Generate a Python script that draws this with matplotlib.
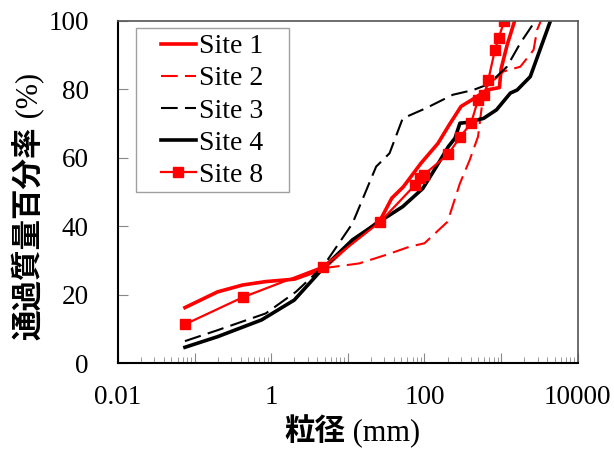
import numpy as np
import matplotlib
matplotlib.use("Agg")
import matplotlib.pyplot as plt
from matplotlib.patches import Rectangle
from matplotlib.ticker import LogLocator, FuncFormatter, NullFormatter

plt.rcParams['font.family'] = ['Liberation Serif', 'Noto Sans CJK JP']

# grain size (mm) and percent passing for each site
site1_d = [0.075, 0.2, 0.425, 0.85, 2.0, 4.75, 11, 26.5, 37.5, 53, 90, 150, 210, 300, 450, 650, 950, 1000, 1200, 1500]
site1_p = [16.2, 20.8, 22.8, 23.8, 24.5, 27.5, 35, 41.8, 48.2, 51.5, 58.4, 64.2, 69.6, 75, 77.4, 79.8, 80.5, 86, 93, 100]

site2_d = [4.75, 14, 31.5, 64, 100, 200, 290, 390, 500, 560, 650, 1070, 1780, 2650, 2950, 3300]
site2_p = [27.7, 29.1, 31.6, 34, 35, 41.3, 52.5, 59.4, 66.2, 75, 80.8, 85.2, 86.6, 91.5, 97.4, 100]

site3_d = [0.075, 0.2, 0.85, 2.1, 4.75, 11.5, 23.4, 35, 52, 105, 234, 433, 650, 870, 1190, 1780, 2790]
site3_p = [6.4, 9.6, 14.5, 20.8, 28.2, 40.8, 57.4, 61.3, 71.5, 74.5, 78.4, 79.8, 81.3, 83.7, 86.6, 93.5, 100]

site4_d = [0.075, 0.2, 0.75, 2.0, 4.75, 11.5, 25.7, 52, 95, 143, 204, 250, 290, 355, 590, 870, 1320, 1620, 2400, 4400]
site4_p = [4.6, 7.7, 12.6, 18.4, 27.7, 36, 41.3, 45.7, 51, 57.4, 63.2, 65.7, 70.1, 70.3, 71.5, 74, 78.9, 79.8, 83.7, 100]

site8_d = [0.075, 0.425, 4.75, 26.5, 75, 87, 98, 205, 295, 405, 500, 600, 680, 830, 925, 1100]
site8_p = [11.3, 19.2, 28.2, 41.3, 52, 54, 55, 61.1, 66.2, 70.1, 76.9, 78.4, 82.7, 91.5, 94.9, 100]

xlabel_parts = ['粒径', ' (mm)']
ylabel_parts = ['通過質量百分率', ' (%)']

W, H = 614, 449
fig = plt.figure(figsize=(W / 100, H / 100), dpi=100)
ax = fig.add_axes([0.192, 0.1915, 0.749, 0.762])

ax.plot(site1_d, site1_p, color='red', lw=2.6, label='Site 1')
ax.plot(site2_d, site2_p, color='red', lw=1.5, dashes=(8, 3.5), label='Site 2')
ax.plot(site3_d, site3_p, color='black', lw=1.5, dashes=(8, 3.5), label='Site 3')
ax.plot(site4_d, site4_p, color='black', lw=2.6, label='Site 4')
ax.plot(site8_d, site8_p, color='red', lw=1.6, marker='s', ms=6.5, label='Site 8')

ax.set_xscale('log')
ax.set_xlim(0.01, 10000)
ax.set_ylim(0, 100)
ax.set_yticks(np.arange(0, 101, 20))

ax.xaxis.set_major_locator(LogLocator(base=10, numticks=10))
ax.xaxis.set_minor_locator(LogLocator(base=10, subs=np.arange(2, 10), numticks=20))
ax.xaxis.set_minor_formatter(NullFormatter())


def fmt_x(v, pos):
    # only every other decade carries a label
    e = int(round(np.log10(v)))
    if e % 2 != 0:
        return ''
    return '{:g}'.format(v)


ax.xaxis.set_major_formatter(FuncFormatter(fmt_x))

ax.tick_params(axis='x', which='major', direction='in', length=7, color='#888888', labelsize=19.5, pad=16)
ax.tick_params(axis='x', which='minor', direction='in', length=4, color='#888888')
ax.tick_params(axis='y', direction='in', length=7, color='#888888', labelsize=19.5, pad=21)

for s in ['left', 'bottom']:
    ax.spines[s].set_color('black')
    ax.spines[s].set_linewidth(1.5)
for s in ['top', 'right']:
    ax.spines[s].set_color('#555555')
    ax.spines[s].set_linewidth(1.2)

# legend frame drawn separately: wide side margins, tight top/bottom
ax.add_patch(Rectangle((0.0385, 0.5), 0.333, 0.4795, transform=ax.transAxes,
                       facecolor='white', edgecolor='#a0a0a0', lw=1.0, zorder=4))
leg = ax.legend(loc='upper left', bbox_to_anchor=(0.093, 0.962), borderaxespad=0,
                fontsize=20, handlelength=1.27, handletextpad=0.1, labelspacing=0.24,
                frameon=False, borderpad=0)
leg.set_zorder(5)

# axis titles: bold CJK part, regular serif part, laid out piece by piece
renderer = fig.canvas.get_renderer()


def piece_text(s, bold, rot):
    return fig.text(0, 0, s, fontsize=22, fontweight='bold' if bold else 'normal',
                    rotation=rot, rotation_mode='anchor', ha='left', va='baseline')


xt = [piece_text(xlabel_parts[0], True, 0), piece_text(xlabel_parts[1], False, 0)]
yt = [piece_text(ylabel_parts[0], True, 90), piece_text(ylabel_parts[1], False, 90)]
xw = [t.get_window_extent(renderer).width for t in xt]
yh = [t.get_window_extent(renderer).height for t in yt]

x0 = 352 - sum(xw) / 2
for t, w in zip(xt, xw):
    t.set_position((x0 / W, 1 - 440 / H))
    x0 += w

y0 = 340
for t, h in zip(yt, yh):
    t.set_position((37 / W, 1 - y0 / H))
    y0 -= h

fig.savefig('out.png', dpi=100)
